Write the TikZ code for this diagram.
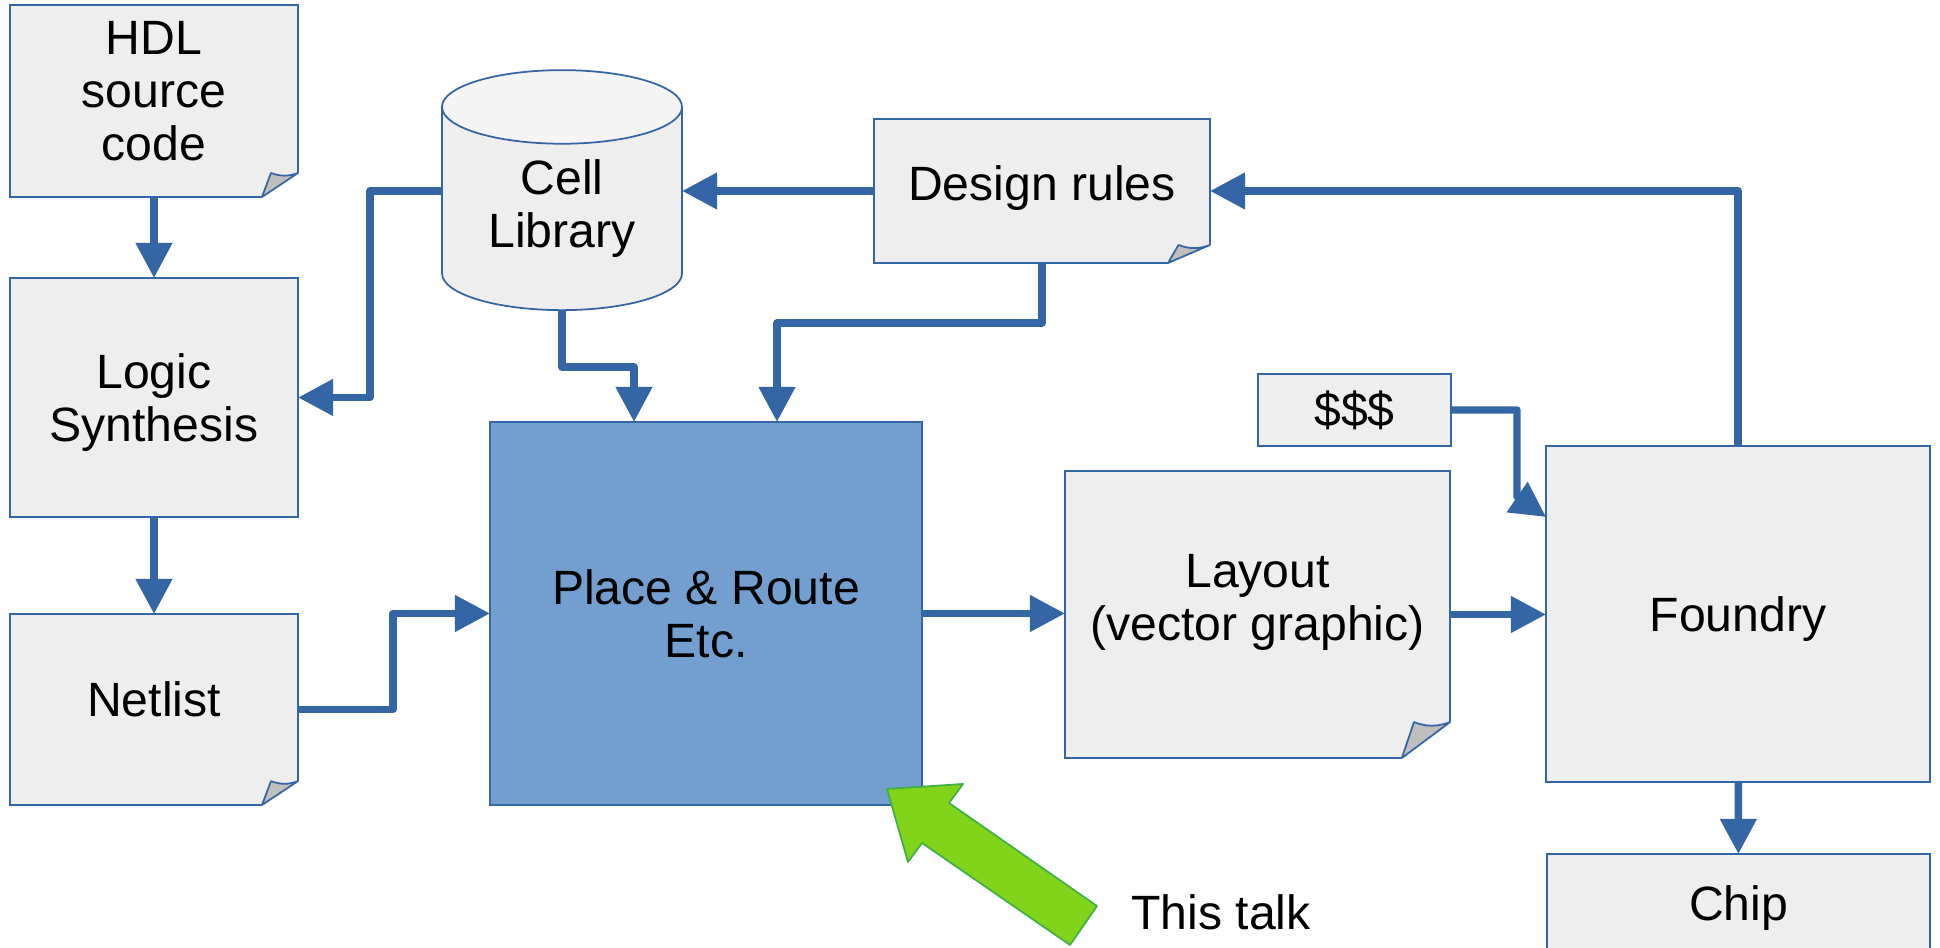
\documentclass[tikz,border=0pt]{standalone}
\usepackage{fontspec}
\setmainfont{Liberation Sans}
\usepackage{tikz}
\usepackage{xcolor}
\usetikzlibrary{positioning,arrows.meta,calc,shapes.geometric}

\definecolor{lineblue}{HTML}{3465A4}
\definecolor{boxgray}{HTML}{EEEEEE}
\definecolor{prblue}{HTML}{729FCF}
\definecolor{talkgreen}{HTML}{81D41A}
\definecolor{talkedge}{HTML}{3FAF46}

\begin{document}
\begin{tikzpicture}[
  >={Triangle[length=10pt,width=10pt]},
  box/.style={draw=lineblue, line width=0.5pt, fill=boxgray, outer sep=0pt, inner sep=0pt, align=center, font=\fontsize{13.7}{15.1}\selectfont},
  lab/.style={font=\fontsize{13.7}{15.1}\selectfont, align=center, inner sep=0pt},
  arr/.style={->, draw=lineblue, line width=2.1pt, line join=round}
]
  \useasboundingbox (0,0) rectangle (19.4,9.48);
  \clip (0,0) rectangle (19.4,9.48);

  % Front end
  \node[box, minimum width=2.88cm, minimum height=1.92cm, label={[lab, name=hdl-t, yshift=1mm]center:HDL\\source\\code}] (hdl) at (1.54,8.47) {};
  \node[box, text depth=0pt, minimum width=2.88cm, minimum height=2.39cm] (logic) at (1.54,5.505) {Logic\\Synthesis};
  \node[box, minimum width=2.88cm, minimum height=1.91cm, label={[lab, name=netlist-t, yshift=1mm]center:Netlist}] (netlist) at (1.54,2.385) {};

  % Libraries and rules
  \node[box, fill=none, cylinder, shape border rotate=90, aspect=0.5, minimum width=2.4cm, minimum height=2.4cm,
    cylinder uses custom fill, cylinder body fill=boxgray, cylinder end fill=black!4] (lib) at (5.62,7.39) {Cell\\Library};
  \node[box, minimum width=3.36cm, minimum height=1.44cm, label={[lab, name=rules-t, yshift=0.3mm]center:Design rules}] (rules) at (10.42,7.57) {};

  % Back end
  \node[box, fill=prblue, minimum width=4.32cm, minimum height=3.83cm] (pr) at (7.06,3.345) {Place \& Route\\Etc.};
  \node[box, minimum width=3.85cm, minimum height=2.87cm, label={[lab, name=layout-t, yshift=1.2mm]center:{Layout\\(vector graphic)}}] (layout) at (12.575,3.335) {};
  \node[box, minimum width=1.93cm, minimum height=0.72cm] (dollar) at (13.545,5.38) {\$\$\$};
  \node[box, text depth=0pt, minimum width=3.84cm, minimum height=3.36cm] (foundry) at (17.38,3.34) {Foundry};
  \node[box, minimum width=3.83cm, minimum height=1.08cm] (chip) at (17.385,0.40) {Chip};

  % folded corners
  \foreach \d in {hdl,netlist,rules,layout}{
    \coordinate (fa) at ($(\d.south east)!0.125!(\d.south west)$);
    \coordinate (fb) at ($(\d.south east)!0.125!(\d.north east)$);
    \coordinate (fc) at ($(fa)!0.25!(fb)$);
    \fill[white] ([yshift=-1pt]fa) -- ([shift={(1pt,-1pt)}]\d.south east) -- ([xshift=1pt]fb) -- (fb) -- (fa) -- cycle;
    \filldraw[fill=black!25, draw=lineblue, line width=0.5pt, line join=round] (fa) -- (fc |- fb) to[bend right=20] (fb) -- cycle;
  }

  % Flow
  \draw[arr] (hdl) -- (logic);
  \draw[arr] (logic) -- (netlist);
  \draw[arr] (rules.west -| lib.west) -- ++(-0.72,0) |- (logic.east);
  \draw[arr] (rules.west) -- (rules.west -| lib.east);
  \draw[arr] (foundry.north) |- (rules.east);
  \draw[arr] (lib.south) -- ++(0,-0.57) -| ([xshift=-0.72cm]pr.north);
  \draw[arr] (rules.south) -- ++(0,-0.60) -| ([xshift=0.71cm]pr.north);
  \draw[arr] (netlist.east) -- ++(0.95,0) |- (pr.west);
  \draw[arr] (pr.east) -- (pr.east -| layout.west);
  \draw[arr] (layout.east) -- (layout.east -| foundry.west);
  \draw[arr] (dollar.east) -| ++(0.66,-0.87) -- ([yshift=-0.71cm]foundry.north west);
  \draw[arr] (foundry) -- (chip);

  % pointer
  \filldraw[fill=talkgreen, draw=talkedge, line width=0.5pt, line join=round]
    (8.87,1.59) -- (9.63,1.64) -- (9.49,1.45) -- (10.97,0.42) -- (10.70,0.03) -- (9.22,1.05) -- (9.08,0.86) -- cycle;
  \node[lab, anchor=base] (talk) at (12.21,0.18) {This talk};
\end{tikzpicture}
\end{document}
